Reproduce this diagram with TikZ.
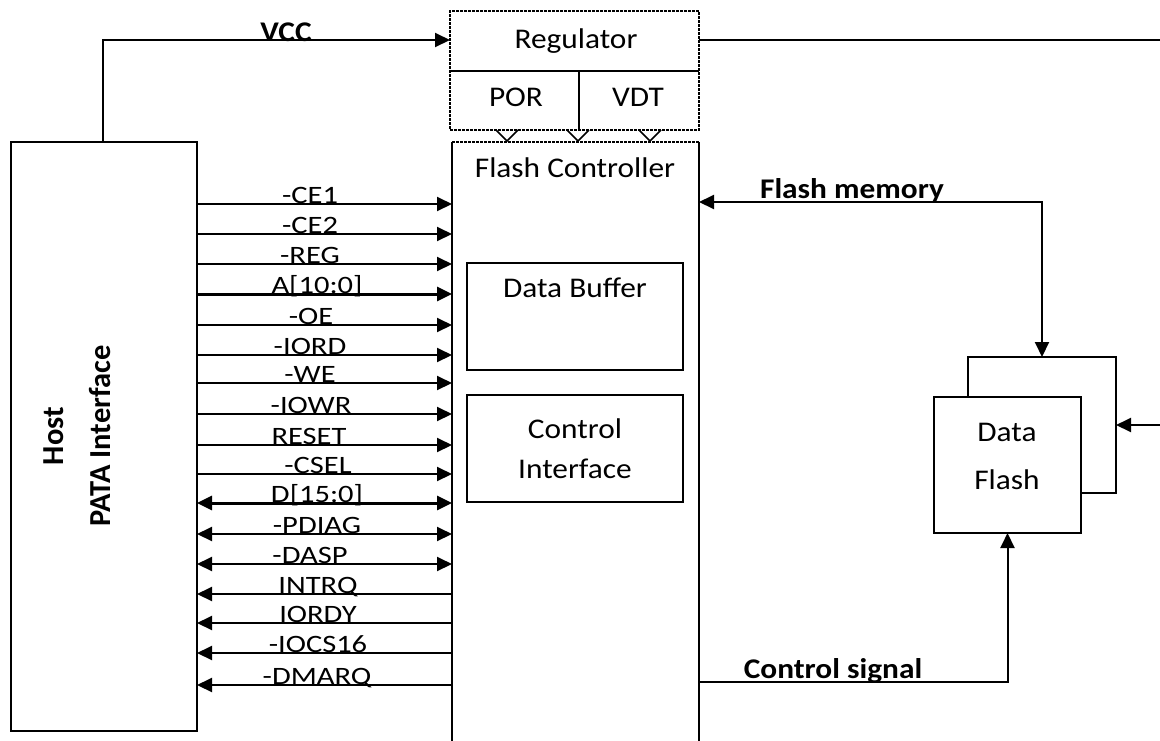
\documentclass[tikz,border=0pt]{standalone}
\usepackage{fontspec}
\setmainfont{Carlito}[FakeStretch=1.1]
\newfontfamily\sigfont{Carlito}[FakeStretch=1.22]
\newfontfamily\hostfont{Carlito}
\usetikzlibrary{arrows.meta}
\begin{document}
\begin{tikzpicture}[x=1pt,y=-1pt,
  >={Triangle[length=15pt,width=14pt]},
  box/.style={draw, line width=2.4pt, inner sep=0pt, outer sep=0pt},
  dotbox/.style={draw, line width=2.6pt, dash pattern=on 3pt off 1pt, inner sep=0pt, outer sep=0pt},
  wire/.style={line width=2pt},
  bus/.style={line width=3pt},
  fwd/.style={wire,->}, bwd/.style={wire,<-}, both/.style={wire,<->},
  busfwd/.style={bus,->}, busboth/.style={bus,<->},
  mtxt/.style={font=\fontsize{28.5}{34}\selectfont, anchor=base, inner sep=0pt},
  btxt/.style={font=\bfseries\fontsize{28.5}{34}\selectfont, anchor=base, inner sep=0pt},
  sig/.style={font=\sigfont\fontsize{25}{30}\selectfont, anchor=base, inner sep=0pt},
  hosttxt/.style={font=\hostfont\bfseries\fontsize{30.5}{36}\selectfont, anchor=base, inner sep=0pt, rotate=90},
]
\useasboundingbox (0,0) rectangle (1160,740);
\clip (0,0) rectangle (1160,740);

% Host
\node[box, minimum width=186pt, minimum height=589pt] (host) at (104,436.5) {};
\node[hosttxt] (hostA) at (63,436) {Host};
\node[hosttxt] (hostB) at (110,436) {PATA Interface};

% Regulator
\node[dotbox, minimum width=249pt, minimum height=119pt] (reg) at (574.5,70.5) {};
\draw[wire] (reg.west |- {(0,71)}) -- (reg.east |- {(0,71)});
\draw[wire] (579,71) -- (579,130);
\node[mtxt] (regt) at (576,48) {Regulator};
\node[mtxt] (por) at (516,106) {POR};
\node[mtxt] (vdt) at (638,106) {VDT};
\foreach \x in {507,578,650}
  \draw[line width=1.6pt, line join=miter] (\x-11,130) -- (\x,141) -- (\x+11,130);

% Flash controller
\node[inner sep=0pt, outer sep=0pt, minimum width=247pt, minimum height=620pt] (ctrl) at (575.5,452) {};
\draw[line width=2.6pt, dash pattern=on 3pt off 1pt] (ctrl.north west) -- (ctrl.north east);
\draw[line width=2.4pt] (ctrl.north west) -- (ctrl.south west);
\draw[line width=2.4pt] (ctrl.north east) -- (ctrl.south east);
\node[mtxt] (ctrlt) at (575,177) {Flash Controller};

\node[box, minimum width=216pt, minimum height=107pt] (buf) at (575,316.5) {};
\node[mtxt] (buft) at (575,297) {Data Buffer};
\node[box, minimum width=216pt, minimum height=107pt] (cif) at (575,448.5) {};
\node[mtxt] (cif1) at (575,438) {Control};
\node[mtxt] (cif2) at (575,478) {Interface};

% Data flash stack
\node[box, minimum width=148pt, minimum height=136pt] (back) at (1042,425) {};
\node[box, fill=white, minimum width=147pt, minimum height=136pt] (front) at (1007.5,465) {};
\node[mtxt] (df1) at (1007,441) {Data};
\node[mtxt] (df2) at (1007,489) {Flash};

% VCC
\draw[wire,->] (host.north -| {(103,0)}) |- (reg.west |- {(0,40)});
\node[btxt] (vcc) at (286,41) {VCC};
\draw[wire,->] (reg.east |- {(0,40)}) -- (1175,40) -- (1175,425) -- (back.east |- {(0,425)});

% Flash memory / control signal
\draw[wire,<->] (ctrl.east |- {(0,202)}) -| (back.north);
\node[btxt] (fm) at (852,198) {Flash memory};
\draw[wire,->] (ctrl.east |- {(0,682)}) -| (front.south);
\node[btxt] (cs) at (833,678) {Control signal};

% Host signals
\foreach \y/\t/\lx/\s [count=\i] in {
  204/-CE1/310/fwd, 234/-CE2/310/fwd, 264/-REG/310/fwd, 294/A[10:0]/317/busfwd,
  325/-OE/311/fwd, 355/-IORD/310/fwd, 383/-WE/310/fwd, 414/-IOWR/311/fwd,
  445/RESET/309/fwd, 474/-CSEL/318/fwd, 503/D[15:0]/317/busboth,
  534/-PDIAG/317/both, 564/-DASP/310/both, 594/INTRQ/318/bwd,
  623/IORDY/318/bwd, 653/-IOCS16/318/bwd, 685/-DMARQ/317/bwd}{
  \draw[\s] (host.east |- {(0,\y)}) -- (ctrl.west |- {(0,\y)});
  \node[sig] (sig\i) at (\lx,\y-1) {\t};
}
\end{tikzpicture}
\end{document}
